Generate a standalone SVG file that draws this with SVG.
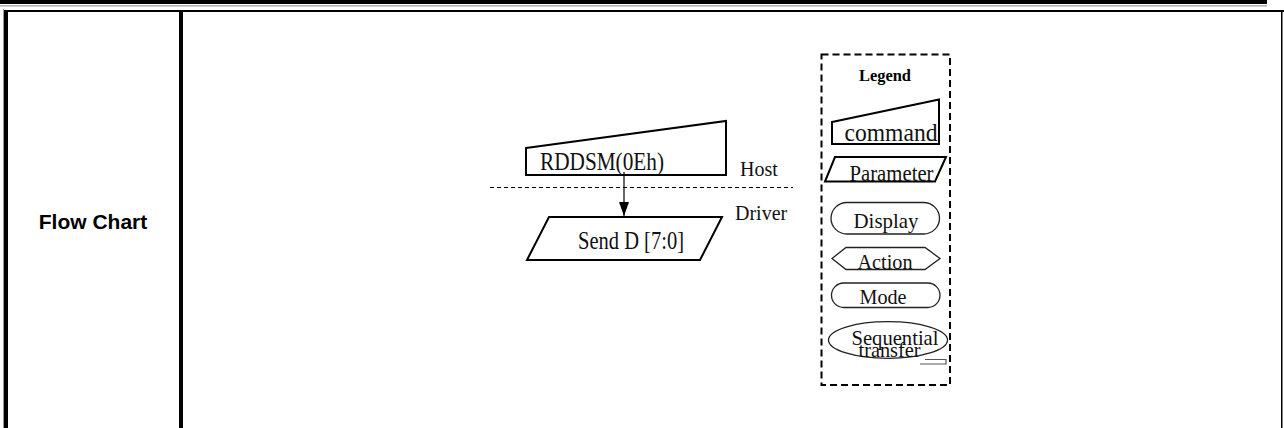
<svg xmlns="http://www.w3.org/2000/svg" width="1284" height="428" viewBox="0 0 1284 428">
<style>
.frame{fill:#000}
.serif{font-family:"Liberation Serif","Times New Roman",serif;fill:#111}
.shape{fill:#fff;stroke:#000;stroke-width:2}
.lg{fill:#fff;stroke:#222;stroke-width:1.3}
.sep{stroke:#000;stroke-width:1;stroke-dasharray:4,3;fill:none}
</style>
<defs>
<marker id="ah" viewBox="0 0 14 10" refX="14" refY="5" markerWidth="14" markerHeight="10" markerUnits="userSpaceOnUse" orient="auto">
<path d="M0,0 L14,5 L0,10 Z" fill="#000"/>
</marker>
</defs>
<rect width="1284" height="428" fill="#fff"/>
<g id="table">
<rect class="frame" x="0" y="0" width="1267" height="4"/>
<rect x="0" y="5" width="1267" height="1.6" fill="#b0b0b0"/>
<rect class="frame" x="7" y="10" width="1277" height="2"/>
<rect x="3" y="9" width="1" height="419" fill="#999"/>
<rect class="frame" x="4" y="10" width="4" height="418"/>
<rect class="frame" x="179" y="11" width="4" height="417"/>
<rect class="frame" x="1281" y="11" width="1.5" height="417"/>
<text x="93" y="229" text-anchor="middle" font-family="Liberation Sans, Arial, sans-serif" font-weight="bold" font-size="21" fill="#000">Flow Chart</text>
</g>
<line class="sep" x1="490" y1="187.5" x2="793" y2="187.5"/>
<text class="serif" x="740" y="176" font-size="20">Host</text>
<text class="serif" x="735" y="220" font-size="20">Driver</text>
<g id="node-rddsm">
<polygon class="shape" points="526,148 726,121 726,175 526,175"/>
<text class="serif" x="540" y="170" font-size="25" textLength="124" lengthAdjust="spacingAndGlyphs">RDDSM(0Eh)</text>
</g>
<g id="node-send">
<polygon class="shape" points="549,217 722,217 700,260 527,260"/>
<text class="serif" x="578" y="249" font-size="25" textLength="106" lengthAdjust="spacingAndGlyphs">Send D [7:0]</text>
</g>
<g id="connectors">
<line x1="624" y1="172" x2="624" y2="216" stroke="#000" stroke-width="1.2" marker-end="url(#ah)"/>
</g>
<g id="legend">
<rect x="821.5" y="54.5" width="128.5" height="330.5" fill="none" stroke="#000" stroke-width="2" stroke-dasharray="7,4"/>
<text x="859" y="81" font-family="Liberation Serif, serif" font-weight="bold" font-size="16" fill="#000" textLength="52" lengthAdjust="spacingAndGlyphs">Legend</text>
<g id="legend-command">
<polygon class="shape" points="832,122 939,99.5 939,144 832,144"/>
<text class="serif" x="844.5" y="141" font-size="25" textLength="93" lengthAdjust="spacingAndGlyphs">command</text>
</g>
<g id="legend-parameter">
<polygon class="shape" points="835,157 946,157 935,181.5 825,181.5"/>
<text class="serif" x="849.5" y="180.5" font-size="24" textLength="84" lengthAdjust="spacingAndGlyphs">Parameter</text>
</g>
<g id="legend-display">
<rect class="lg" x="831" y="202.5" width="108.5" height="31.5" rx="16" ry="15.75"/>
<text class="serif" x="853.5" y="227.5" font-size="22" textLength="65" lengthAdjust="spacingAndGlyphs">Display</text>
</g>
<g id="legend-action">
<polygon class="lg" points="832,258.5 846,247.5 925,247.5 940,258.5 925,269.5 846,269.5"/>
<text class="serif" x="857.5" y="268.5" font-size="22" textLength="55" lengthAdjust="spacingAndGlyphs">Action</text>
</g>
<g id="legend-mode">
<rect class="lg" x="831.5" y="283" width="108.5" height="24.5" rx="12.25"/>
<text class="serif" x="859.5" y="303.5" font-size="22" textLength="47" lengthAdjust="spacingAndGlyphs">Mode</text>
</g>
<g id="legend-sequential">
<ellipse class="lg" cx="888" cy="340" rx="59.5" ry="18.3"/>
<polyline points="925,359.5 946,359.5 946,364 920,364" fill="none" stroke="#555" stroke-width="1.2"/>
<text class="serif" x="851.5" y="345" font-size="21" textLength="87" lengthAdjust="spacingAndGlyphs">Sequential</text>
<text class="serif" x="858.5" y="357" font-size="21" textLength="62" lengthAdjust="spacingAndGlyphs">transfer</text>
</g>
</g>
</svg>
